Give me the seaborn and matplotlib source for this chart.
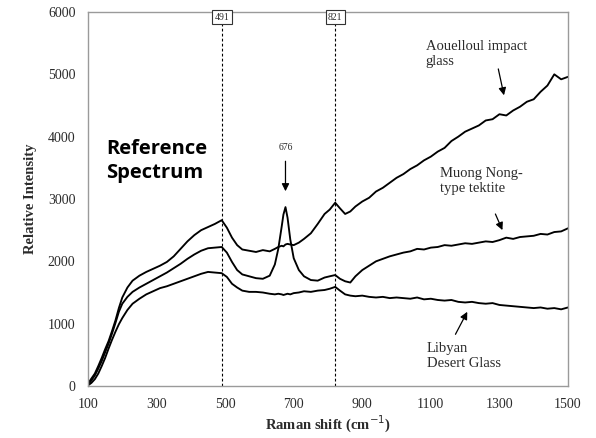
import matplotlib
matplotlib.use("Agg")
import matplotlib.pyplot as plt
import seaborn as sns
import pandas as pd

# ---- data ----
shift = [100, 110, 120, 130, 140, 150, 160, 170, 180, 190,
         200, 215, 230, 250, 270, 290, 310, 330, 350, 370,
         390, 410, 430, 450, 470, 490, 505, 520, 535, 550,
         570, 590, 610, 630, 645, 655, 665, 670, 676, 682,
         690, 700, 715, 730, 750, 770, 790, 805, 821, 835,
         850, 865, 880, 900, 920, 940, 960, 980, 1000, 1020,
         1040, 1060, 1080, 1100, 1120, 1140, 1160, 1180, 1200, 1220,
         1240, 1260, 1280, 1300, 1320, 1340, 1360, 1380, 1400, 1420,
         1440, 1460, 1480, 1500]

aouelloul = [40, 120, 200, 320, 450, 590, 720, 880, 1050, 1250,
             1420, 1580, 1690, 1770, 1830, 1880, 1930, 1990, 2080, 2200,
             2320, 2420, 2500, 2550, 2600, 2660, 2540, 2380, 2260, 2190,
             2170, 2150, 2180, 2160, 2200, 2230, 2250, 2240, 2270, 2280,
             2270, 2260, 2300, 2360, 2450, 2600, 2760, 2830, 2940, 2850,
             2760, 2800, 2880, 2960, 3020, 3120, 3180, 3260, 3340, 3400,
             3480, 3540, 3620, 3680, 3760, 3820, 3930, 4000, 4080, 4130,
             4180, 4260, 4280, 4360, 4340, 4420, 4480, 4560, 4600, 4720,
             4820, 5000, 4920, 4960]

muong_nong = [20, 90, 170, 280, 400, 540, 680, 840, 1010, 1190,
              1320, 1430, 1510, 1580, 1640, 1700, 1760, 1820, 1890, 1960,
              2040, 2110, 2170, 2210, 2220, 2230, 2140, 1990, 1860, 1790,
              1760, 1730, 1720, 1770, 1950, 2200, 2560, 2750, 2870, 2700,
              2350, 2050, 1860, 1760, 1700, 1690, 1740, 1760, 1780, 1720,
              1680, 1660, 1760, 1860, 1930, 2000, 2040, 2080, 2110, 2140,
              2160, 2200, 2190, 2220, 2230, 2260, 2250, 2270, 2290, 2280,
              2300, 2320, 2310, 2340, 2380, 2360, 2390, 2400, 2410, 2440,
              2430, 2470, 2480, 2530]

libyan = [10, 50, 110, 200, 320, 450, 600, 740, 870, 990,
          1090, 1220, 1320, 1400, 1470, 1520, 1570, 1600, 1640, 1680,
          1720, 1760, 1800, 1830, 1820, 1810, 1750, 1640, 1580, 1530,
          1510, 1510, 1500, 1480, 1470, 1480, 1470, 1460, 1470, 1480,
          1470, 1490, 1500, 1520, 1510, 1530, 1540, 1560, 1590, 1530,
          1470, 1450, 1440, 1450, 1430, 1420, 1430, 1410, 1420, 1410,
          1400, 1420, 1390, 1400, 1380, 1370, 1380, 1350, 1340, 1350,
          1330, 1320, 1330, 1300, 1290, 1280, 1270, 1260, 1250, 1260,
          1240, 1250, 1230, 1260]

series_names = ["Aouelloul", "Muong Nong", "Libyan"]
peak_lines = [491, 821]
x_ticks = [100, 300, 500, 700, 900, 1100, 1300, 1500]
y_ticks = [0, 1000, 2000, 3000, 4000, 5000, 6000]

df = pd.concat([
    pd.DataFrame({"shift": shift, "intensity": vals, "sample": name})
    for name, vals in zip(series_names, [aouelloul, muong_nong, libyan])
])

# ---- style ----
sns.set_theme(style="white")
plt.rcParams["font.family"] = ["Liberation Serif", "DejaVu Sans"]
txt = "#2b2b2b"

fig = plt.figure(figsize=(5.96, 4.38), dpi=100)
ax = fig.add_axes([88 / 596, 1 - 386 / 438, (568 - 88) / 596, (386 - 12) / 438])

sns.lineplot(data=df, x="shift", y="intensity", hue="sample",
             palette={n: "black" for n in series_names}, legend=False,
             linewidth=1.35, ax=ax, estimator=None, sort=False)

ax.set_xlim(100, 1500)
ax.set_ylim(0, 6000)
ax.set_xticks(x_ticks)
ax.set_yticks(y_ticks)
ax.tick_params(length=0, labelsize=10, colors=txt, pad=9)
for s in ax.spines.values():
    s.set_color("#9a9a9a")
    s.set_linewidth(1.0)

ax.set_xlabel("Raman shift (cm$^{-1}$)", fontsize=10.5, fontweight="bold",
              color=txt, labelpad=2)
ax.set_ylabel("Relative Intensity", fontsize=10.5, fontweight="bold",
              color=txt, labelpad=8)

# dashed peak markers with boxed labels
for p in peak_lines:
    ax.axvline(p, color="black", linestyle=(0, (2.5, 2)), linewidth=0.8)
    ax.text(p, 5990, str(p), ha="center", va="top", fontsize=7, color=txt,
            bbox=dict(boxstyle="square,pad=0.25", fc="white", ec="#333333", lw=0.8))

# Reference Spectrum label
ax.text(153, 3610, "Reference\nSpectrum", ha="left", va="center",
        fontsize=14.5, fontweight="bold", family=["Open Sans", "DejaVu Sans"],
        color="black", linespacing=1.25)

# 676 arrow
ax.text(676, 3820, "676", ha="center", va="center", fontsize=7, color=txt)
ax.annotate("", xy=(676, 3080), xytext=(676, 3650),
            arrowprops=dict(arrowstyle="-|>", color="black", lw=0.9,
                            mutation_scale=11))

# sample labels with arrows
ax.text(1085, 5330, "Aouelloul impact\nglass", ha="left", va="center",
        fontsize=10.5, color=txt, linespacing=1.2)
ax.annotate("", xy=(1315, 4620), xytext=(1295, 5130),
            arrowprops=dict(arrowstyle="-|>", color="black", lw=0.9,
                            mutation_scale=11))

ax.text(1126, 3290, "Muong Nong-\ntype tektite", ha="left", va="center",
        fontsize=10.5, color=txt, linespacing=1.2)
ax.annotate("", xy=(1312, 2460), xytext=(1285, 2800),
            arrowprops=dict(arrowstyle="-|>", color="black", lw=0.9,
                            mutation_scale=11))

ax.text(1088, 475, "Libyan\nDesert Glass", ha="left", va="center",
        fontsize=10.5, color=txt, linespacing=1.2)
ax.annotate("", xy=(1210, 1230), xytext=(1168, 790),
            arrowprops=dict(arrowstyle="-|>", color="black", lw=0.9,
                            mutation_scale=11))

fig.savefig("out.png", dpi=100)
